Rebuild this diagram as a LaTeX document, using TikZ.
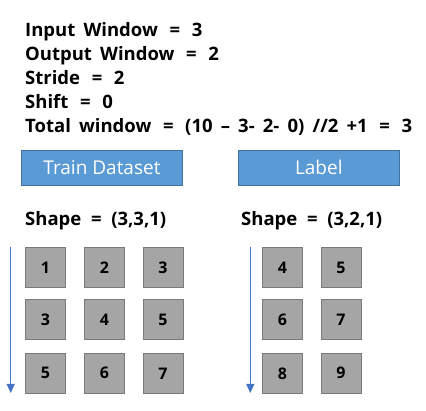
\documentclass[tikz,border=0pt]{standalone}
\usepackage{fontspec}
\setmainfont{Open Sans}
\newfontfamily\infofont{Open Sans}[WordSpace=1.7]
\newcommand{\eqsign}{\hspace{3.5pt}=\hspace{3.5pt}}
\newcommand{\eqshape}{\hspace{1.5pt}=\hspace{1.5pt}}
\usetikzlibrary{arrows.meta}
\definecolor{boxblue}{HTML}{5B9BD5}
\definecolor{boxblueline}{HTML}{41719C}
\definecolor{cellgrey}{HTML}{A5A5A5}
\definecolor{cellline}{HTML}{7A7A7A}
\definecolor{arrowblue}{HTML}{4472C4}
\tikzset{
  info/.style={anchor=base west, inner sep=0pt, font=\infofont\fontsize{18.5}{22}\selectfont\bfseries},
  header/.style={draw=boxblueline, fill=boxblue, line width=1pt, text=white, inner sep=0pt,
                 minimum width=161pt, minimum height=35pt, font=\fontsize{19}{22}\selectfont},
  cell/.style={draw=cellline, fill=cellgrey, line width=1pt, inner sep=0pt,
               minimum width=40pt, minimum height=40pt, font=\fontsize{16}{20}\selectfont\bfseries},
  flow/.style={draw=arrowblue, line width=0.8pt, -{Triangle[width=8pt,length=9pt]}}
}
\begin{document}
\begin{tikzpicture}[x=1pt,y=-1pt]
\useasboundingbox (0,0) rectangle (426,411);
% parameter lines
\node[info] (l1) at (25,36.7) {Input Window \eqsign{} 3};
\node[info] (l2) at (25,60.5) {Output Window \eqsign{} 2};
\node[info] (l3) at (25,84.3) {Stride \eqsign{} 2};
\node[info] (l4) at (25,108.3) {Shift \eqsign{} 0};
\node[info] (l5) at (25,132.5) {Total window \eqsign{} (10 – 3- 2- 0) //2 +1 \eqsign{} 3};
% headers
\node[header] (train) at (102,167.7) {Train Dataset};
\node[header] (label) at (318.8,167.7) {Label};
% shapes
\node[info] (s1) at (25,226) {Shape \eqshape{} (3,3,1)};
\node[info] (s2) at (241,226) {Shape \eqshape{} (3,2,1)};
% train cells
\node[cell] (t11) at (45.5,267.5) {1};
\node[cell] (t12) at (104.5,267.5) {2};
\node[cell] (t13) at (163,267.5) {3};
\node[cell] (t21) at (45.5,320) {3};
\node[cell] (t22) at (104.5,320) {4};
\node[cell] (t23) at (163,320) {5};
\node[cell] (t31) at (45.5,373.3) {5};
\node[cell] (t32) at (104.5,373.3) {6};
\node[cell] (t33) at (163,373.3) {7};
% label cells
\node[cell] (r11) at (282.5,267.5) {4};
\node[cell] (r12) at (341,267.5) {5};
\node[cell] (r21) at (282.5,320) {6};
\node[cell] (r22) at (341,320) {7};
\node[cell] (r31) at (282.5,373.3) {8};
\node[cell] (r32) at (341,373.3) {9};
% arrows
\coordinate (a1s) at (10.7,247.3);
\coordinate (a1e) at (10.7,393);
\coordinate (a2s) at (250.3,247.3);
\coordinate (a2e) at (250.3,393);
\draw[flow] (a1s) -- (a1e);
\draw[flow] (a2s) -- (a2e);
\end{tikzpicture}
\end{document}
